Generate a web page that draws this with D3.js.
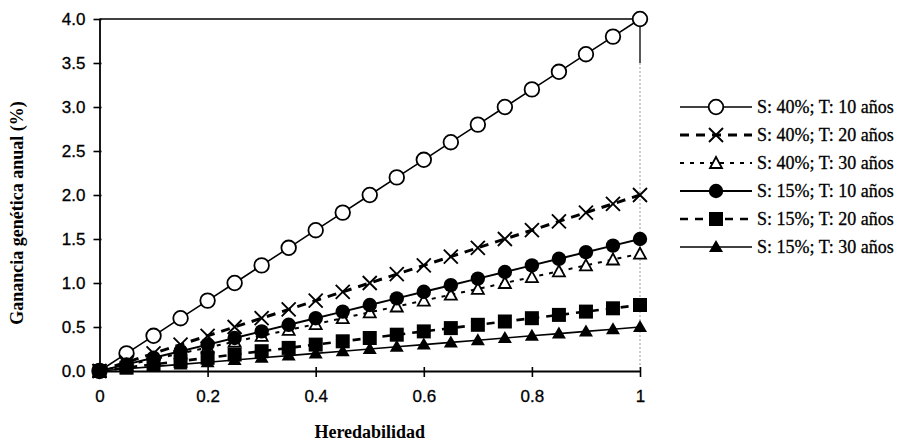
<!DOCTYPE html>
<html><head><meta charset="utf-8">
<script src="https://cdn.jsdelivr.net/npm/d3@7"></script>
<style>html,body{margin:0;padding:0;background:#fff;}svg{display:block;}</style>
</head><body>
<svg id="c" width="902" height="443"></svg>
<script>
const heredabilidad = [0,0.05,0.1,0.15,0.2,0.25,0.3,0.35,0.4,0.45,0.5,0.55,0.6,0.65,0.7,0.75,0.8,0.85,0.9,0.95,1];
const s40t10 = [0,0.2,0.4,0.6,0.8,1.0,1.2,1.4,1.6,1.8,2.0,2.2,2.4,2.6,2.8,3.0,3.2,3.4,3.6,3.8,4.0];
const s40t20 = [0,0.1,0.2,0.3,0.4,0.5,0.6,0.7,0.8,0.9,1.0,1.1,1.2,1.3,1.4,1.5,1.6,1.7,1.8,1.9,2.0];
const s40t30 = [0,0.067,0.133,0.2,0.267,0.333,0.4,0.467,0.533,0.6,0.667,0.733,0.8,0.867,0.933,1.0,1.067,1.133,1.2,1.267,1.333];
const s15t10 = [0,0.075,0.15,0.225,0.3,0.375,0.45,0.525,0.6,0.675,0.75,0.825,0.9,0.975,1.05,1.125,1.2,1.275,1.35,1.425,1.5];
const s15t20 = [0,0.0375,0.075,0.1125,0.15,0.1875,0.225,0.2625,0.3,0.3375,0.375,0.4125,0.45,0.4875,0.525,0.5625,0.6,0.6375,0.675,0.7125,0.75];
const s15t30 = [0,0.025,0.05,0.075,0.1,0.125,0.15,0.175,0.2,0.225,0.25,0.275,0.3,0.325,0.35,0.375,0.4,0.425,0.45,0.475,0.5];
const seriesNames = ["S: 40%; T: 10 años","S: 40%; T: 20 años","S: 40%; T: 30 años","S: 15%; T: 10 años","S: 15%; T: 20 años","S: 15%; T: 30 años"];
const xTicks = [0,0.2,0.4,0.6,0.8,1];
const xTickLabels = ["0","0.2","0.4","0.6","0.8","1"];
const yTicks = [0,0.5,1.0,1.5,2.0,2.5,3.0,3.5,4.0];
const yTickLabels = ["0.0","0.5","1.0","1.5","2.0","2.5","3.0","3.5","4.0"];

const styles = [
  {marker:"circleOpen", dash:null, width:1.6},
  {marker:"x", dash:"9,7", width:3},
  {marker:"triOpen", dash:"4,6", width:2},
  {marker:"circle", dash:null, width:2},
  {marker:"square", dash:"8,7", width:2.6},
  {marker:"tri", dash:null, width:1.6}
];
const allValues = [s40t10,s40t20,s40t30,s15t10,s15t20,s15t30];

const svg = d3.select("#c");
const x = d3.scaleLinear().domain([0,1]).range([99.5,640]);
const y = d3.scaleLinear().domain([0,4]).range([371,19]);

function drawMarker(g, type, cx, cy){
  if(type==="circleOpen"){
    g.append("circle").attr("cx",cx).attr("cy",cy).attr("r",7.3).attr("fill","#fff").attr("stroke","#000").attr("stroke-width",1.8);
  } else if(type==="circle"){
    g.append("circle").attr("cx",cx).attr("cy",cy).attr("r",7.2).attr("fill","#000");
  } else if(type==="square"){
    g.append("rect").attr("x",cx-7).attr("y",cy-7).attr("width",14).attr("height",14).attr("fill","#000");
  } else if(type==="tri"){
    g.append("path").attr("d",`M${cx},${cy-7}L${cx+7},${cy+5}L${cx-7},${cy+5}Z`).attr("fill","#000");
  } else if(type==="triOpen"){
    g.append("path").attr("d",`M${cx},${cy-6}L${cx+6},${cy+5}L${cx-6},${cy+5}Z`).attr("fill","#fff").attr("stroke","#000").attr("stroke-width",1.8);
  } else if(type==="x"){
    g.append("path").attr("d",`M${cx-7},${cy-7}L${cx+7},${cy+7}M${cx+7},${cy-7}L${cx-7},${cy+7}`).attr("stroke","#000").attr("stroke-width",1.9).attr("fill","none");
  }
}

// frame top/right
svg.append("line").attr("x1",x(0)).attr("x2",x(1)).attr("y1",y(4)).attr("y2",y(4)).attr("stroke","#000").attr("stroke-width",1.3);
svg.append("line").attr("x1",x(1)).attr("x2",x(1)).attr("y1",y(4)).attr("y2",y(3.5)).attr("stroke","#000").attr("stroke-width",1.3);
svg.append("line").attr("x1",x(1)).attr("x2",x(1)).attr("y1",y(3.5)).attr("y2",y(0)).attr("stroke","#999").attr("stroke-width",1).attr("stroke-dasharray","2,2");

// axes
const yAxis = d3.axisLeft(y).tickValues(yTicks).tickFormat((d,i)=>yTickLabels[i]).tickSizeInner(6).tickSizeOuter(0).tickPadding(8);
const gy = svg.append("g").attr("transform",`translate(${x(0)},0)`).call(yAxis);
gy.select(".domain").attr("stroke-width",1.8);
gy.selectAll(".tick line").attr("stroke-width",1.6).attr("x2",-6).attr("x1",2);
gy.selectAll(".tick text").attr("font-family","Liberation Sans, Arial, sans-serif").attr("font-size",17).attr("fill","#000")
  .attr("stroke","#000").attr("stroke-width",0.3);

const xAxis = d3.axisBottom(x).tickValues(xTicks).tickFormat((d,i)=>xTickLabels[i]).tickSizeInner(6).tickSizeOuter(0).tickPadding(13);
const gx = svg.append("g").attr("transform",`translate(0,${y(0)})`).call(xAxis);
gx.select(".domain").attr("stroke-width",2.2);
gx.selectAll(".tick line").attr("stroke-width",1.6).attr("y1",-4).attr("y2",6);
gx.selectAll(".tick text").attr("font-family","Liberation Sans, Arial, sans-serif").attr("font-size",17).attr("fill","#000")
  .attr("stroke","#000").attr("stroke-width",0.3);

// series
const line = d3.line().x((d,i)=>x(heredabilidad[i])).y(d=>y(d));
allValues.forEach((vals,si)=>{
  const st = styles[si];
  const g = svg.append("g");
  g.append("path").datum(vals).attr("d",line).attr("fill","none").attr("stroke","#000")
    .attr("stroke-width",st.width).attr("stroke-dasharray",st.dash);
  vals.forEach((v,i)=>drawMarker(g, st.marker, x(heredabilidad[i]), y(v)));
});

// axis titles
svg.append("text").attr("x",x(0.5)).attr("y",438).attr("text-anchor","middle")
  .attr("font-family","Liberation Serif, Times New Roman, serif").attr("font-weight","bold").attr("font-size",18).text("Heredabilidad");
svg.append("text").attr("transform","translate(23,213) rotate(-90)").attr("text-anchor","middle")
  .attr("font-family","Liberation Serif, Times New Roman, serif").attr("font-weight","bold").attr("font-size",18).text("Ganancia genética anual (%)");

// legend
const legY0 = 107, legDy = 28;
seriesNames.forEach((name,i)=>{
  const st = styles[i];
  const ly = legY0 + i*legDy;
  const g = svg.append("g");
  g.append("line").attr("x1",680).attr("x2",752).attr("y1",ly).attr("y2",ly).attr("stroke","#000")
    .attr("stroke-width",st.width).attr("stroke-dasharray",st.dash);
  drawMarker(g, st.marker, 716, ly);
  g.append("text").attr("x",757).attr("y",ly+6).attr("font-family","Liberation Serif, Times New Roman, serif")
    .attr("font-size",18).attr("fill","#000").attr("stroke","#000").attr("stroke-width",0.3).text(name);
});
</script>
</body></html>
